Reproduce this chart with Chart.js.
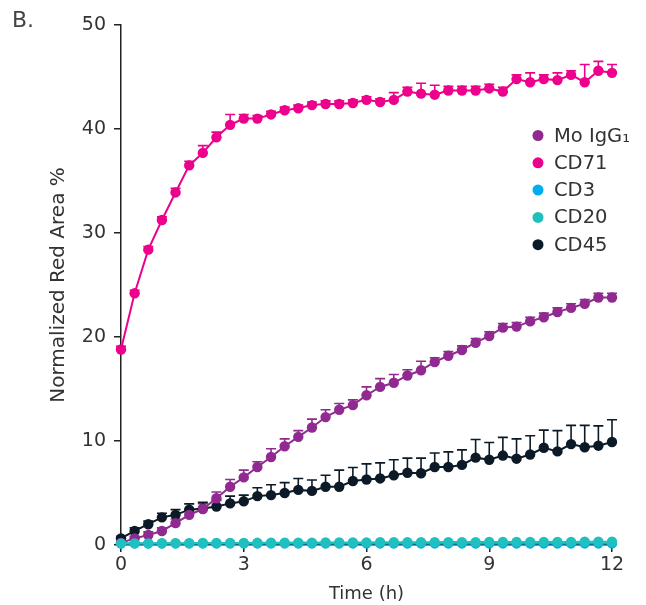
<!DOCTYPE html>
<html><head><meta charset="utf-8">
<script src="https://cdn.jsdelivr.net/npm/chart.js@4/dist/chart.umd.min.js"></script>
<style>html,body{margin:0;padding:0;background:#fff}#wrap{width:646px;height:605px}</style>
</head><body><div id="wrap"><canvas id="c" width="646" height="605"></canvas></div>
<script>
const timeH = [0,0.333,0.667,1,1.333,1.667,2,2.333,2.667,3,3.333,3.667,4,4.333,4.667,5,5.333,5.667,6,6.333,6.667,7,7.333,7.667,8,8.333,8.667,9,9.333,9.667,10,10.333,10.667,11,11.333,11.667,12];
const xTicks = [0,3,6,9,12];
const yTicks = [0,10,20,30,40,50];
const seriesLabels = ["Mo IgG\u2081","CD71","CD3","CD20","CD45"];
const moIgG1 = [0.2,0.64,0.96,1.35,2.1,2.9,3.46,4.5,5.6,6.5,7.5,8.46,9.5,10.4,11.3,12.3,13.0,13.45,14.4,15.2,15.6,16.3,16.8,17.6,18.2,18.75,19.45,20.1,20.9,21.0,21.5,21.9,22.4,22.8,23.2,23.8,23.8];
const moIgG1Err = [0.1,0.2,0.3,0.3,0.4,0.5,0.5,0.6,0.7,0.7,0.5,0.8,0.7,0.6,0.8,0.7,0.6,0.5,0.8,0.8,0.8,0.55,0.87,0.4,0.4,0.4,0.4,0.4,0.4,0.4,0.4,0.4,0.4,0.4,0.4,0.4,0.4];
const cd71 = [18.8,24.2,28.4,31.25,33.9,36.5,37.7,39.2,40.4,41.0,41.0,41.4,41.8,42.0,42.3,42.4,42.4,42.5,42.8,42.6,42.8,43.6,43.4,43.3,43.7,43.7,43.7,43.9,43.6,44.8,44.5,44.8,44.7,45.2,44.5,45.6,45.4];
const cd71Err = [0.3,0.3,0.3,0.3,0.4,0.4,0.7,0.5,1.0,0.4,0.3,0.3,0.3,0.3,0.3,0.3,0.3,0.3,0.3,0.3,0.7,0.4,1.0,0.9,0.4,0.4,0.4,0.4,0.4,0.4,0.9,0.4,0.7,0.4,1.7,0.9,0.8];
const cd3 = [0.15,0.15,0.15,0.15,0.15,0.15,0.15,0.15,0.15,0.15,0.15,0.15,0.15,0.15,0.15,0.15,0.15,0.15,0.15,0.15,0.15,0.15,0.15,0.15,0.15,0.15,0.15,0.15,0.15,0.15,0.15,0.15,0.15,0.15,0.15,0.15,0.15];
const cd20 = [0.15,0.16,0.16,0.17,0.18,0.18,0.19,0.2,0.2,0.2,0.21,0.22,0.22,0.23,0.23,0.24,0.24,0.25,0.25,0.26,0.26,0.26,0.27,0.27,0.28,0.28,0.28,0.29,0.29,0.3,0.3,0.3,0.3,0.3,0.31,0.31,0.31];
const cd45 = [0.64,1.35,2.0,2.66,2.9,3.4,3.5,3.7,4.0,4.2,4.7,4.8,5.0,5.3,5.2,5.6,5.6,6.15,6.3,6.4,6.7,6.95,6.9,7.5,7.5,7.7,8.4,8.2,8.6,8.3,8.7,9.35,9.0,9.7,9.4,9.55,9.9];
const cd45Err = [0.2,0.3,0.3,0.4,0.5,0.55,0.6,0.6,0.7,0.6,0.8,1.0,1.0,1.1,1.05,1.1,1.6,1.3,1.5,1.5,1.5,1.4,1.45,1.35,1.45,1.45,1.75,1.65,1.75,1.9,1.8,1.7,2.0,1.8,2.1,1.9,2.15];
const colors = ["#912a90","#ec008c","#00aeef","#20c0be","#0b1a26"];

const FONT = '"DejaVu Sans", "Open Sans", sans-serif';

function pts(vals){ return vals.map((v,i)=>({x:timeH[i], y:v})); }
function ds(label, vals, color, order, err){
  return {label, data: pts(vals), borderColor: color, backgroundColor: color,
    pointBackgroundColor: color, pointBorderColor: color, pointRadius: 5.2, pointHoverRadius: 5.2,
    borderWidth: 2, pointBorderWidth: 0, tension: 0, clip: false, order, errorBars: err};
}

const errorBarPlugin = {
  id: 'errorBars',
  beforeDatasetsDraw(chart){
    const ctx = chart.ctx, ys = chart.scales.y;
    chart.data.datasets.forEach((d, di) => {
      if (!d.errorBars) return;
      const meta = chart.getDatasetMeta(di);
      ctx.save();
      ctx.strokeStyle = d.borderColor; ctx.lineWidth = 1.6;
      meta.data.forEach((p, i) => {
        const top = ys.getPixelForValue(d.data[i].y + d.errorBars[i]);
        ctx.beginPath();
        ctx.moveTo(p.x, p.y); ctx.lineTo(p.x, top);
        ctx.moveTo(p.x - 5, top); ctx.lineTo(p.x + 5, top);
        ctx.stroke();
      });
      ctx.restore();
    });
  }
};

const legendPlugin = {
  id: 'customLegend',
  afterDraw(chart){
    const ctx = chart.ctx;
    ctx.save();
    ctx.font = '19.5px ' + FONT;
    ctx.textBaseline = 'middle';
    chart.data.datasets.forEach((d, i) => {
      const y = 135.5 + i * 27.3;
      ctx.fillStyle = d.backgroundColor;
      ctx.beginPath(); ctx.arc(538, y, 5.5, 0, Math.PI * 2); ctx.fill();
      ctx.fillStyle = '#333';
      ctx.fillText(d.label, 554, y + 1);
    });
    ctx.font = '22px ' + FONT;
    ctx.fillStyle = '#444';
    ctx.textBaseline = 'alphabetic';
    ctx.fillText('B.', 12, 27);
    ctx.restore();
  }
};

Chart.defaults.font.family = FONT;
Chart.defaults.color = '#333';

new Chart(document.getElementById('c'), {
  type: 'line',
  data: { datasets: [
    ds(seriesLabels[0], moIgG1, colors[0], 1, moIgG1Err),
    ds(seriesLabels[1], cd71, colors[1], 2, cd71Err),
    ds(seriesLabels[2], cd3, colors[2], 4, null),
    ds(seriesLabels[3], cd20, colors[3], 0, null),
    ds(seriesLabels[4], cd45, colors[4], 3, cd45Err)
  ]},
  options: {
    responsive: false, animation: false,
    layout: { padding: { left: 0, right: 34, top: 25, bottom: 0 } },
    plugins: { legend: { display: false }, tooltip: { enabled: false } },
    scales: {
      x: {
        type: 'linear', min: 0, max: 12,
        afterBuildTicks: s => { s.ticks = xTicks.map(v => ({value: v})); },
        afterFit: s => { s.height = 60; },
        grid: { drawOnChartArea: false, drawTicks: true, tickLength: 7, color: '#222', lineWidth: 1.5 },
        border: { display: true, color: '#222', width: 1.5 },
        ticks: { font: { size: 19 }, color: '#333', padding: 2, maxRotation: 0 },
        title: { display: true, text: 'Time (h)', font: { size: 18 }, color: '#333', padding: { top: 0, bottom: 0 } }
      },
      y: {
        type: 'linear', min: 0, max: 50,
        afterBuildTicks: s => { s.ticks = yTicks.map(v => ({value: v})); },
        afterFit: s => { s.width = 121; },
        grid: { drawOnChartArea: false, drawTicks: true, tickLength: 7, color: '#222', lineWidth: 1.5 },
        border: { display: true, color: '#222', width: 1.5 },
        ticks: { font: { size: 19 }, color: '#333', padding: 8 },
        title: { display: true, text: 'Normalized Red Area %', font: { size: 20 }, color: '#333', padding: { top: 47, bottom: 0 } }
      }
    }
  },
  plugins: [errorBarPlugin, legendPlugin]
});
</script></body></html>
